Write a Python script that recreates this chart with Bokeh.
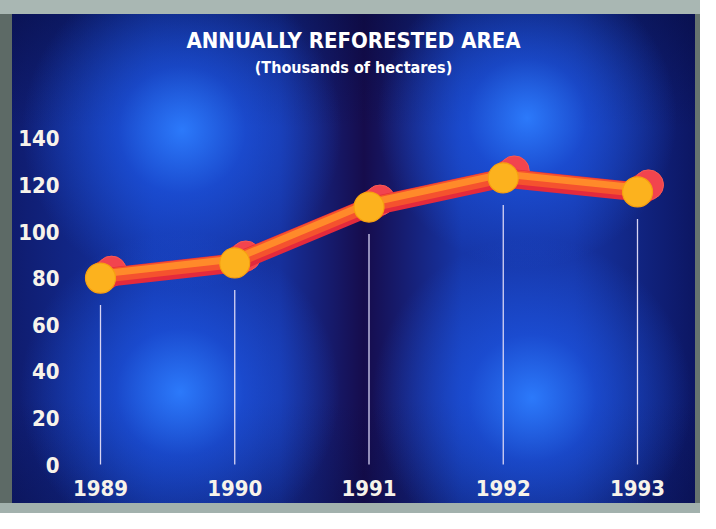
from bokeh.plotting import figure
from bokeh.models import Range1d, FixedTicker, Label
from bokeh.embed import file_html
from bokeh.resources import INLINE

# ---- data ----
years = [1989, 1990, 1991, 1992, 1993]
year_labels = ["1989", "1990", "1991", "1992", "1993"]
area = [80, 86.5, 110.5, 123, 117]          # thousands of hectares
y_ticks = [0, 20, 40, 60, 80, 100, 120, 140]
title_text = "ANNUALLY REFORESTED AREA"
subtitle_text = "(Thousands of hectares)"

# ---- layout constants (pixels) ----
W, H = 700, 513
FL, FR_M, FB_M = 80, 5, 43             # frame left, right margin, bottom margin
FW = W - FL - FR_M
FH = H - FB_M
PX_YEAR = 134.25                        # pixels per year
PX_UNIT = 2.33                          # pixels per thousand ha
X0 = years[0] - 20 / PX_YEAR
Y0 = -6 / PX_UNIT
X1 = X0 + FW / PX_YEAR
Y1 = Y0 + FH / PX_UNIT

def dx(px):
    return px / PX_YEAR

def dy(px):
    return px / PX_UNIT

FONT = "DejaVu Sans Condensed, Lato, sans-serif"
TXT = "#f7f3ea"

p = figure(width=W, height=H, output_backend="svg", toolbar_location=None,
           x_range=Range1d(X0, X1), y_range=Range1d(Y0, Y1),
           min_border_left=FL, min_border_right=FR_M, min_border_top=0,
           min_border_bottom=FB_M)
p.background_fill_alpha = 0
p.border_fill_alpha = 0
p.outline_line_color = None
p.grid.visible = False

glow = "rgba(45,125,255,0.95) 0%, rgba(30,90,235,0.6) 40%, rgba(20,50,180,0) 100%"
p.styles = {
    "background": (
        f"radial-gradient(circle 160px at 182px 130px, {glow}),"
        f"radial-gradient(circle 160px at 180px 392px, {glow}),"
        f"radial-gradient(circle 150px at 527px 118px, {glow}),"
        f"radial-gradient(circle 160px at 532px 398px, {glow}),"
        "linear-gradient(to bottom, rgba(6,10,60,0.55) 0%, rgba(6,10,60,0) 25%, rgba(6,10,60,0) 78%, rgba(6,10,60,0.35) 100%),"
        "linear-gradient(to right, #0f1a6a 0%, #1434a6 22%, #16309c 40%, #160c4c 52%, #1636a8 66%, #1634a4 82%, #0c1560 100%)"
    ),
    "box-shadow": ("inset 0 14px 0 0 #a9b7b3, inset 0 -10px 0 0 #a2b1ad, "
                   "inset 12px 0 0 0 #5d6a66, inset -5px 0 0 0 #66736f"),
}

# axes
for ax in (p.xaxis[0], p.yaxis[0]):
    ax.axis_line_color = None
    ax.major_tick_line_color = None
    ax.minor_tick_line_color = None
    ax.major_label_text_color = TXT
    ax.major_label_text_font = FONT
    ax.major_label_text_font_style = "bold"
    ax.major_label_text_font_size = "22px"
p.xaxis.ticker = FixedTicker(ticks=years)
p.xaxis.major_label_overrides = {y: s for y, s in zip(years, year_labels)}
p.xaxis.major_label_standoff = 3
p.yaxis.ticker = FixedTicker(ticks=y_ticks)
p.yaxis.major_label_standoff = 15

# drop lines
p.segment(x0=years, y0=[0] * len(years), x1=years, y1=[a - dy(27) for a in area],
          line_color="#d8d4f4", line_width=1.3)

# cylinder backs
bx = [x + dx(11) for x in years]
by = [a + dy(7) for a in area]
p.segment(x0=years, y0=area, x1=bx, y1=by, line_color="#ec3036", line_width=30,
          line_cap="round")
p.scatter(bx, by, size=30, fill_color="#f2444e", line_color="#f45a55", line_width=1)

# tube
p.line(years, area, line_color="#e42a3c", line_width=19, line_join="round")
p.line(years, [a + dy(2) for a in area], line_color="#f5522e", line_width=14,
       line_join="round")
p.line(years, [a + dy(4) for a in area], line_color="#ff8a2a", line_width=7,
       line_join="round")

# faces
p.scatter(years, area, size=30, fill_color="#fcb21e", line_color="#f6a010",
          line_width=1.2)

# titles
tx = X0 + dx(353 - FL)
p.add_layout(Label(x=tx, y=Y0 + dy(FH - 40), text=title_text, text_align="center",
                   text_baseline="middle", text_color="#ffffff", text_font=FONT,
                   text_font_style="bold", text_font_size="22px"))
p.add_layout(Label(x=tx, y=Y0 + dy(FH - 67), text=subtitle_text, text_align="center",
                   text_baseline="middle", text_color="#ffffff", text_font=FONT,
                   text_font_style="bold", text_font_size="16px"))

open("out.html", "w").write(file_html(p, INLINE))
